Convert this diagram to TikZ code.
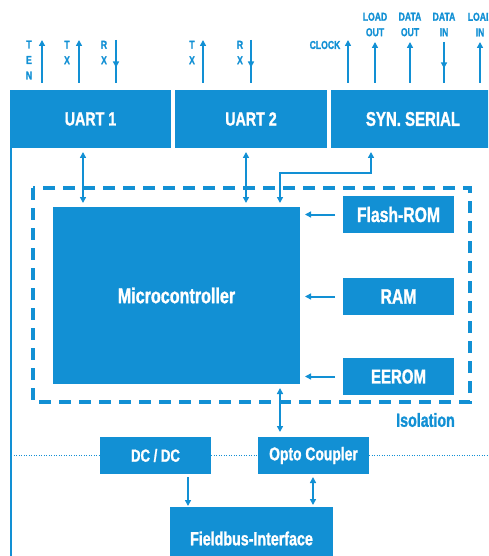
\documentclass[tikz,border=0pt]{standalone}
\usepackage{fontspec}
\setmainfont{Liberation Sans}[FakeStretch=0.75,BoldFont={Liberation Sans Bold},BoldFeatures={FakeStretch=0.75,FakeBold=1.2}]
\usetikzlibrary{arrows.meta,decorations.markings}
\definecolor{myblue}{RGB}{18,144,212}
\begin{document}
\begin{tikzpicture}[x=1pt,y=-1pt,
  blk/.style={fill=myblue,text=white,font=\bfseries\fontsize{19}{21}\selectfont,inner sep=0pt,outer sep=0pt,draw=none},
  conn/.style={draw=myblue,line width=2pt},
  tipe/.style={-{Triangle[length=6pt,width=6pt]}},
  dbl/.style={{Triangle[length=6pt,width=6pt]}-{Triangle[length=6pt,width=6pt]}},
  midtip/.style={postaction={decorate},decoration={markings,mark=at position 0.55 with {\arrow{Triangle[length=6pt,width=6pt]}}}},
  sig/.style={text=myblue,font=\bfseries\fontsize{11.5}{15.5}\selectfont,inner sep=0pt,align=center},
  isol/.style={draw=myblue,line width=4pt,dash pattern=on 12pt off 8pt},
  dots/.style={draw=myblue,line width=1.2pt,dash pattern=on 1pt off 1.5pt}
]
\useasboundingbox (0,0) rectangle (488,556);
\clip (0,0) rectangle (488,556);

% top bar
\node[blk,minimum width=161,minimum height=58] (u1) at (90.5,119) {UART 1};
\node[blk,minimum width=152,minimum height=58] (u2) at (251,119) {UART 2};
\node[blk,minimum width=164,minimum height=58,font=\bfseries\fontsize{20}{22}\selectfont] (syn) at (413,119) {SYN. SERIAL};

% main blocks
\node[blk,minimum width=247,minimum height=177,font=\bfseries\fontsize{21.5}{23}\selectfont] (m) at (176.5,295.5) {Microcontroller};
\node[blk,minimum width=111,minimum height=37,font=\bfseries\fontsize{21}{23}\selectfont] (fl) at (398.5,214.5) {Flash-ROM};
\node[blk,minimum width=111,minimum height=37,font=\bfseries\fontsize{21}{23}\selectfont] (ram) at (398.5,296.5) {RAM};
\node[blk,minimum width=111,minimum height=37,font=\bfseries\fontsize{20}{22}\selectfont] (ee) at (398.5,376.5) {EEROM};
\node[blk,minimum width=111,minimum height=37,font=\bfseries\fontsize{17.5}{19}\selectfont] (dc) at (155.5,455.5) {DC / DC};
\node[blk,minimum width=111,minimum height=37,font=\bfseries\fontsize{18.5}{20}\selectfont] (op) at (313.5,455.5) {Opto Coupler};
\node[blk,minimum width=163,minimum height=63] (fb) at (251.5,538.5) {Fieldbus-Interface};

% isolation
\draw[isol] (33,188) rectangle (470,402);
\node[text=myblue,font=\bfseries\fontsize{19}{21}\selectfont,anchor=east,inner sep=0pt] (iso) at (455,420) {Isolation};

% helper coordinates
\coordinate (yTop) at (0,40);
\coordinate (yTopB) at (0,42);
\coordinate (yEl) at (0,173);
\coordinate (yBot) at (0,600);
\coordinate (xL) at (11,0);
\coordinate (xR) at (500,0);
\foreach \n/\x in {a/42,b/79,c/116,d/203,e/251,f/348,g/375,h/410,i/444,j/480,k/83,l/246,s/371,t/280,p/188,q/313}
  \coordinate (x\n) at (\x,0);

% left frame line
\draw[conn] (xL |- u1.south) -- (xL |- yBot);

% top signals
\node[sig] (lten) at (29,60) {T\\E\\N};
\node[sig] (ltx1) at (67,52.5) {T\\X};
\node[sig] (lrx1) at (104,52.5) {R\\X};
\node[sig] (ltx2) at (192,52.5) {T\\X};
\node[sig] (lrx2) at (240,52.5) {R\\X};
\node[sig] (lclk) at (325,45) {CLOCK};
\node[sig] (llo) at (375,24.5) {LOAD\\OUT};
\node[sig] (ldo) at (410,24.5) {DATA\\OUT};
\node[sig] (ldi) at (444,24.5) {DATA\\IN};
\node[sig] (lli) at (480,24.5) {LOAD\\IN};

\draw[conn,tipe,shorten <=7pt] (xa |- u1.north) -- (xa |- yTop);
\draw[conn,tipe,shorten <=7pt] (xb |- u1.north) -- (xb |- yTop);
\draw[conn,midtip,shorten >=7pt] (xc |- yTop) -- (xc |- u1.north);
\draw[conn,tipe,shorten <=7pt] (xd |- u2.north) -- (xd |- yTop);
\draw[conn,midtip,shorten >=7pt] (xe |- yTop) -- (xe |- u2.north);
\draw[conn,tipe,shorten <=7pt] (xf |- syn.north) -- (xf |- yTop);
\draw[conn,tipe,shorten <=7pt] (xg |- syn.north) -- (xg |- yTopB);
\draw[conn,tipe,shorten <=7pt] (xh |- syn.north) -- (xh |- yTopB);
\draw[conn,midtip,shorten >=7pt] (xi |- yTopB) -- (xi |- syn.north);
\draw[conn,tipe,shorten <=7pt] (xj |- syn.north) -- (xj |- yTopB);

% bar to microcontroller
\draw[conn,dbl,shorten <=4pt,shorten >=4pt] (xk |- u1.south) -- (xk |- m.north);
\draw[conn,dbl,shorten <=4pt,shorten >=4pt] (xl |- u2.south) -- (xl |- m.north);
\draw[conn,dbl,shorten <=4pt,shorten >=4pt] (xs |- syn.south) -- (xs |- yEl) -- (xt |- yEl) -- (xt |- m.north);

% memories
\draw[conn,tipe,shorten <=8pt,shorten >=5pt] (fl.west) -- (fl.west -| m.east);
\draw[conn,tipe,shorten <=8pt,shorten >=5pt] (ram.west) -- (ram.west -| m.east);
\draw[conn,tipe,shorten <=8pt,shorten >=5pt] (ee.west) -- (ee.west -| m.east);

% micro to opto
\draw[conn,dbl,shorten <=4pt,shorten >=5pt] (xt |- m.south) -- (xt |- op.north);

% dotted isolation line
\draw[dots] (xL |- dc.west) -- (dc.west);
\draw[dots] (dc.east) -- (op.west);
\draw[dots] (op.east) -- (xR |- op.east);

% lower connectors
\draw[conn,tipe,shorten <=3pt,shorten >=1pt] (xp |- dc.south) -- (xp |- fb.north);
\draw[conn,dbl,shorten <=3pt,shorten >=2pt] (xq |- op.south) -- (xq |- fb.north);
\end{tikzpicture}
\end{document}
